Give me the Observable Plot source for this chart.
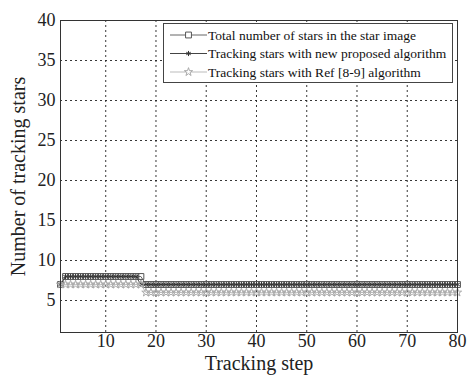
<!DOCTYPE html>
<html>
<head>
<meta charset="utf-8">
<script src="https://cdn.jsdelivr.net/npm/d3@7"></script>
<script src="https://cdn.jsdelivr.net/npm/@observablehq/plot@0.6"></script>
<style>
  body { margin: 0; background: #fff; }
  #wrap { position: relative; width: 467px; height: 378px; font-family: "Liberation Serif", "Times New Roman", serif; }
  #wrap svg text { font-family: "Liberation Serif", "Times New Roman", serif; }
  #legend { position: absolute; left: 163px; top: 23px; width: 288px; height: 58px; border: 1px solid #444; background: #fff; }
</style>
</head>
<body>
<div id="wrap"></div>
<script>
const steps = [1,2,3,4,5,6,7,8,9,10,11,12,13,14,15,16,17,18,19,20,21,22,23,24,25,26,27,28,29,30,31,32,33,34,35,36,37,38,39,40,41,42,43,44,45,46,47,48,49,50,51,52,53,54,55,56,57,58,59,60,61,62,63,64,65,66,67,68,69,70,71,72,73,74,75,76,77,78,79,80];
const totalStars = [7,8,8,8,8,8,8,8,8,8,8,8,8,8,8,8,8,7,7,7,7,7,7,7,7,7,7,7,7,7,7,7,7,7,7,7,7,7,7,7,7,7,7,7,7,7,7,7,7,7,7,7,7,7,7,7,7,7,7,7,7,7,7,7,7,7,7,7,7,7,7,7,7,7,7,7,7,7,7,7];
const newAlgo = [7,8,8,8,8,8,8,8,8,8,8,8,8,8,8,8,7,7,7,7,7,7,7,7,7,7,7,7,7,7,7,7,7,7,7,7,7,7,7,7,7,7,7,7,7,7,7,7,7,7,7,7,7,7,7,7,7,7,7,7,7,7,7,7,7,7,7,7,7,7,7,7,7,7,7,7,7,7,7,7];
const refAlgo = [7,7,7,7,7,7,7,7,7,7,7,7,7,7,7,7,7,6,6,6,6,6,6,6,6,6,6,6,6,6,6,6,6,6,6,6,6,6,6,6,6,6,6,6,6,6,6,6,6,6,6,6,6,6,6,6,6,6,6,6,6,6,6,6,6,6,6,6,6,6,6,6,6,6,6,6,6,6,6,6];
const seriesNames = ["Total number of stars in the star image", "Tracking stars with new proposed algorithm", "Tracking stars with Ref [8-9] algorithm"];
const xTicks = [10,20,30,40,50,60,70,80];
const yTicks = [5,10,15,20,25,30,35,40];

const FONT = '"Liberation Serif", "Times New Roman", serif';
const totalData = steps.map((s,i) => ({step: s, v: totalStars[i]}));
const newData = steps.map((s,i) => ({step: s, v: newAlgo[i]}));
const refData = steps.map((s,i) => ({step: s, v: refAlgo[i]}));

const styles = [
  {stroke: "#555", lineStroke: "#666", symbol: "square", r: 3.3},
  {stroke: "#333", lineStroke: "#444", symbol: "asterisk", r: 2.4},
  {stroke: "#aaa", lineStroke: "#bbb", symbol: "star", r: 2.6}
];
const datasets = [totalData, newData, refData];

const marks = [
  Plot.gridX(xTicks, {stroke: "#222", strokeOpacity: 0.9, strokeDasharray: "2,3"}),
  Plot.gridY(yTicks, {stroke: "#222", strokeOpacity: 0.9, strokeDasharray: "2,3"}),
  Plot.axisX(xTicks, {tickSize: 0, tickPadding: 2, fontSize: 18, label: null, fontFamily: FONT}),
  Plot.axisY(yTicks, {tickSize: 0, tickPadding: 5, fontSize: 18, label: null, fontFamily: FONT}),
];
datasets.forEach((d, i) => {
  marks.push(Plot.line(d, {x: "step", y: "v", stroke: styles[i].lineStroke, strokeWidth: 1}));
  marks.push(Plot.dot(d, {x: "step", y: "v", symbol: styles[i].symbol, r: styles[i].r, stroke: styles[i].stroke, fill: "none", strokeWidth: 1}));
});
marks.push(Plot.frame({stroke: "#333", strokeWidth: 1}));
marks.push(Plot.text(["Tracking step"], {frameAnchor: "bottom", lineAnchor: "middle", dy: 31, fontSize: 20, fontFamily: FONT}));
marks.push(Plot.text(["Number of tracking stars"], {frameAnchor: "left", textAnchor: "middle", lineAnchor: "middle", dx: -42, rotate: -90, fontSize: 20, fontFamily: FONT}));

const chart = Plot.plot({
  width: 467,
  height: 378,
  marginLeft: 60,
  marginRight: 10,
  marginTop: 20,
  marginBottom: 46,
  style: {fontFamily: FONT, color: "#222", background: "#fff"},
  x: {domain: [1, 80]},
  y: {domain: [1, 40]},
  marks
});
const wrap = document.getElementById("wrap");
wrap.appendChild(chart);

// Legend overlay
const legend = document.createElement("div");
legend.id = "legend";
wrap.appendChild(legend);
const lsvg = d3.select(legend).append("svg").attr("width", 288).attr("height", 58);
const symMap = {square: d3.symbolSquare, asterisk: d3.symbolAsterisk, star: d3.symbolStar};
seriesNames.forEach((name, i) => {
  const y = 11 + i * 18.5;
  const g = lsvg.append("g");
  g.append("line").attr("x1", 6).attr("x2", 43).attr("y1", y).attr("y2", y).attr("stroke", styles[i].lineStroke);
  g.append("path").attr("d", d3.symbol(symMap[styles[i].symbol], Math.PI * styles[i].r * styles[i].r)())
    .attr("transform", `translate(24.5,${y})`).attr("fill", "#fff").attr("stroke", styles[i].stroke);
  g.append("text").attr("x", 44).attr("y", y).attr("dy", "0.35em")
    .attr("font-family", FONT).attr("font-size", 13.5).attr("fill", "#111").text(name);
});
</script>
</body>
</html>
